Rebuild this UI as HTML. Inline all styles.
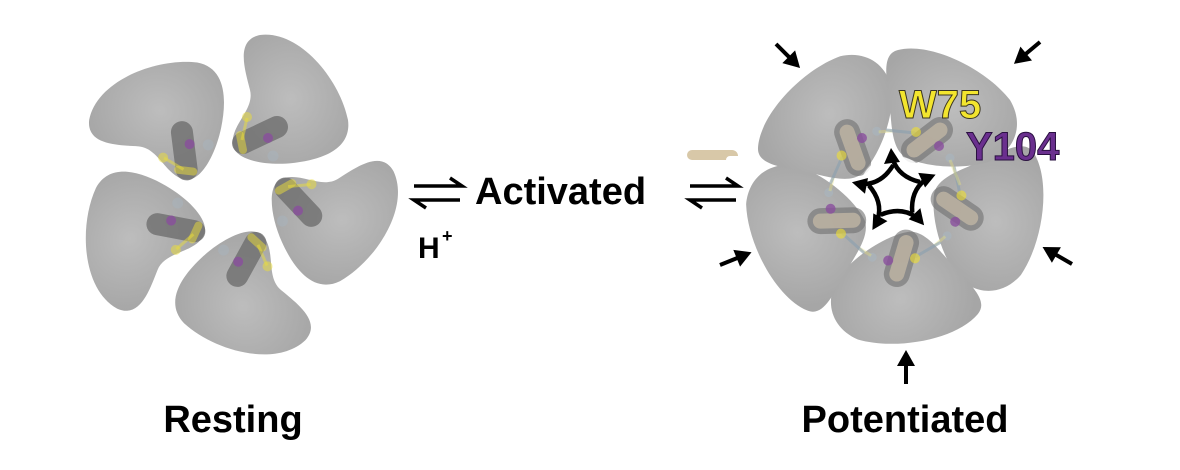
<!DOCTYPE html>
<html><head><meta charset="utf-8"><style>
body{margin:0;background:#fff;}
svg{display:block;}
text{font-family:"Liberation Sans",Arial,sans-serif;font-weight:bold;}
</style></head><body>
<svg width="1180" height="470" viewBox="0 0 1180 470" xmlns="http://www.w3.org/2000/svg">
<defs>
<radialGradient id="g" cx="0.5" cy="0.5" r="0.6"><stop offset="0" stop-color="#bdbdbd"/><stop offset="1" stop-color="#a6a6a6"/></radialGradient>
<g id="rs">
<path d="M260,35 C300,30 340,80 348,120 C352,150 320,160 293,163 C265,166 235,160 233,145 C230,125 255,110 250,90 C245,70 235,40 260,35 Z" fill="url(#g)"/>
<line x1="243" y1="143" x2="277" y2="127" stroke="#6a6a6a" stroke-width="22" stroke-linecap="round" opacity="0.75"/>
<circle cx="268" cy="138" r="5" fill="#8a4f9e" opacity="0.8"/>
<circle cx="273" cy="156" r="5.5" fill="#a9b3bb" opacity="0.6"/>
<line x1="247" y1="118" x2="242" y2="140" stroke="#e8dc40" stroke-width="3" opacity="0.5"/>
<circle cx="247" cy="117" r="5" fill="#ecdd3a" opacity="0.5"/>
<line x1="240" y1="135" x2="243" y2="150" stroke="#ecdd3a" stroke-width="8" stroke-linecap="round" opacity="0.5"/>
</g>
<g id="ps">
<path d="M898,50 C930,42 985,68 1010,100 C1025,125 1015,152 988,162 C960,170 925,167 905,157 C890,147 892,120 889,100 C886,75 882,54 898,50 Z" fill="url(#g)"/>
<line x1="914" y1="150" x2="940" y2="130" stroke="#707070" stroke-width="26" stroke-linecap="round" opacity="0.6"/>
<line x1="914" y1="150" x2="940" y2="130" stroke="#c8bca8" stroke-width="15" stroke-linecap="round" opacity="0.7"/>
<circle cx="939" cy="146" r="5" fill="#8a4f9e" opacity="0.8"/>
<line x1="886" y1="130" x2="915" y2="133" stroke="#8aa0b0" stroke-width="3" opacity="0.6"/>
<circle cx="916" cy="132" r="5" fill="#f0e030" opacity="0.6"/>
<circle cx="950" cy="158" r="4.5" fill="#a9b6c0" opacity="0.6"/>
<line x1="950" y1="160" x2="960" y2="185" stroke="#e6df80" stroke-width="3" opacity="0.4"/>
</g>
<g id="oa"><line x1="0" y1="0" x2="0" y2="-22" stroke="#000" stroke-width="4"/><path d="M-9,-18 L0,-34 L9,-18 Z" fill="#000"/></g>
<g id="sa"><path d="M920,182 Q899,177 893,160" fill="none" stroke="#000" stroke-width="4.5"/><path d="M884,164 L891,148 L900,162 Z" fill="#000"/></g>
</defs>

<g><use href="#rs" transform="rotate(0 233 195)"/><use href="#rs" transform="rotate(72 233 195)"/><use href="#rs" transform="rotate(144 233 195)"/><use href="#rs" transform="rotate(216 233 195)"/><use href="#rs" transform="rotate(288 233 195)"/></g>

<g><use href="#ps" transform="rotate(72 895 195)"/><use href="#ps" transform="rotate(144 895 195)"/><use href="#ps" transform="rotate(216 895 195)"/><use href="#ps" transform="rotate(288 895 195)"/><use href="#ps" transform="rotate(0 895 195)"/></g>
<circle cx="895" cy="192" r="36" fill="#fff" opacity="0.85"/>
<g>
<use href="#sa" transform="rotate(0 895 192)"/>
<use href="#sa" transform="rotate(72 895 192)"/>
<use href="#sa" transform="rotate(144 895 192)"/>
<use href="#sa" transform="rotate(216 895 192)"/>
<use href="#sa" transform="rotate(288 895 192)"/>
</g>
<!-- outer arrows -->
<use href="#oa" transform="translate(776,44) rotate(135)"/>
<use href="#oa" transform="translate(1040,42) rotate(-130)"/>
<use href="#oa" transform="translate(720,265) rotate(68)"/>
<use href="#oa" transform="translate(1072,264) rotate(-60)"/>
<use href="#oa" transform="translate(906,384)"/>

<path d="M692,150 h40 a6,6 0 0 1 6,6 h-8 a4,4 0 0 0 -4,4 h-34 a5,5 0 0 1 0,-10 Z" fill="#d8c8a8"/>

<g stroke="#000" stroke-width="3.5" fill="none">
<path d="M414,186 H462 L450,178"/><path d="M460,200 H414 L426,208"/>
<path d="M690,186 H738 L726,178"/><path d="M736,200 H690 L702,208"/>
</g>

<text x="475" y="204" font-size="38" fill="#000">Activated</text>
<text x="418" y="258" font-size="30" fill="#000">H</text>
<text x="442" y="242" font-size="18" fill="#000">+</text>
<text x="233" y="432" font-size="38" fill="#000" text-anchor="middle">Resting</text>
<text x="905" y="432" font-size="38" fill="#000" text-anchor="middle">Potentiated</text>
<text x="899" y="118" font-size="40" fill="#f3e52e" stroke="#3a3520" stroke-width="1">W75</text>
<text x="966" y="160" font-size="40" fill="#6a2f8e" stroke="#2a1040" stroke-width="1">Y104</text>
</svg>
</body></html>
